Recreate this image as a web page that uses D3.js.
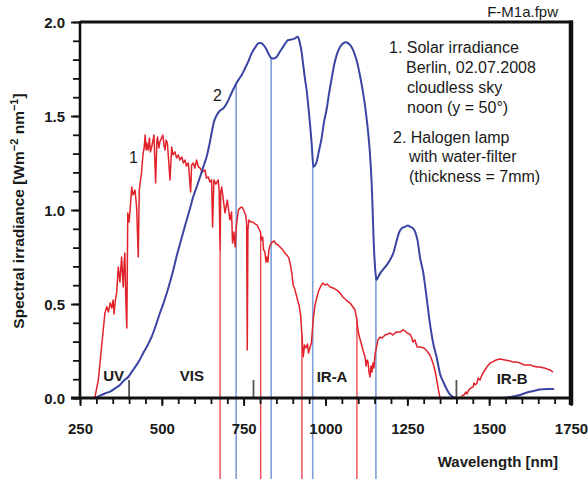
<!DOCTYPE html>
<html>
<head>
<meta charset="utf-8">
<script src="https://cdn.jsdelivr.net/npm/d3@7"></script>
<style>
  html, body { margin: 0; padding: 0; background: #fff; }
  svg text { font-family: "Liberation Sans", Arial, Helvetica, sans-serif; fill: #1a1a1a; }
</style>
</head>
<body>
<svg id="chart" width="588" height="479"></svg>
<script>
// Solar spectrum, Berlin 02.07.2008 (wavelength nm, irradiance W m^-2 nm^-1)
const solarNm = [290,296,306,316,326,332,337,342,347,351,354,358,362,367,372,377,380,382,385,387,390,393,396,400,403,408,412,418,423,428,431,435,438,441,443,446,449,452,454,458,462,465,469,473,476,481,485,487,491,494,499,503,507,510,513,517,525,530,534,540,545,550,555,561,566,571,575,581,588,591,596,601,606,612,617,624,632,636,642,647,652,655,659,665,672,675,678,680,683,688,693,700,704,708,713,716,720,724,728,734,739,745,751,756,759,761,763,766,772,778,785,791,797,801,804,808,811,815,818,821,824,827,830,837,843,849,855,861,870,876,882,888,893,898,901,907,913,919,924,927,930,932,936,940,945,948,953,957,960,963,968,974,980,986,992,998,1005,1014,1023,1035,1044,1053,1063,1075,1084,1090,1095,1098,1102,1107,1112,1116,1121,1124,1127,1130,1133,1136,1139,1142,1145,1148,1151,1154,1160,1167,1173,1182,1191,1197,1206,1212,1218,1228,1237,1243,1249,1258,1264,1267,1273,1280,1289,1301,1310,1319,1325,1331,1336,1341,1345,1350,1411,1417,1423,1429,1432,1438,1444,1451,1454,1457,1463,1466,1472,1478,1481,1487,1493,1503,1509,1521,1533,1548,1564,1573,1585,1594,1606,1616,1625,1634,1646,1655,1668,1677,1686,1695];
const solarVal = [0,0.007,0.096,0.273,0.451,0.486,0.457,0.505,0.479,0.521,0.447,0.521,0.559,0.697,0.617,0.750,0.654,0.590,0.723,0.771,0.521,0.372,0.984,0.936,1.000,1.122,1.080,1.106,1.016,0.750,1.106,1.160,1.197,1.266,1.303,1.330,1.399,1.319,1.356,1.319,1.383,1.309,1.335,1.372,1.399,1.144,1.372,1.388,1.330,1.362,1.383,1.399,1.340,1.319,1.372,1.356,1.160,1.335,1.293,1.309,1.277,1.293,1.266,1.282,1.250,1.266,1.234,1.250,1.096,1.239,1.250,1.223,1.266,1.229,1.223,1.202,1.213,1.170,1.176,1.149,1.160,0.910,1.160,1.138,1.160,1.106,0.787,1.096,1.122,1.053,0.984,1.053,1.000,0.947,0.989,0.824,0.883,0.803,0.920,1.000,1.011,1.016,0.995,0.973,0.936,0.255,0.894,0.947,0.936,0.936,0.926,0.920,0.899,0.883,0.840,0.856,0.787,0.777,0.723,0.750,0.723,0.787,0.809,0.830,0.835,0.819,0.814,0.803,0.787,0.771,0.761,0.745,0.707,0.654,0.601,0.574,0.532,0.495,0.441,0.362,0.282,0.218,0.282,0.266,0.287,0.239,0.271,0.293,0.362,0.426,0.495,0.537,0.574,0.596,0.612,0.601,0.606,0.590,0.585,0.574,0.559,0.537,0.521,0.505,0.484,0.468,0.426,0.378,0.335,0.303,0.271,0.245,0.218,0.170,0.202,0.191,0.138,0.112,0.170,0.138,0.186,0.160,0.229,0.255,0.309,0.324,0.319,0.335,0.340,0.346,0.335,0.346,0.351,0.351,0.362,0.356,0.346,0.340,0.319,0.298,0.309,0.271,0.271,0.266,0.250,0.229,0.202,0.170,0.133,0.085,0.043,0,0,0.011,0.016,0.032,0.021,0.043,0.053,0.059,0.080,0.069,0.080,0.106,0.096,0.122,0.133,0.149,0.165,0.186,0.191,0.202,0.207,0.202,0.197,0.191,0.191,0.186,0.176,0.176,0.176,0.170,0.165,0.165,0.160,0.154,0.149,0.138];

// Halogen lamp behind a 7 mm water filter
const halogenNm = [301,311,326,342,357,372,384,398,410,423,433,443,456,469,482,494,505,515,525,535,545,556,566,576,586,596,607,617,627,637,645,652,659,668,678,688,698,708,718,729,736,744,754,764,772,780,788,795,803,810,818,825,836,843,851,861,871,879,886,896,907,915,918,922,927,932,937,943,948,953,958,963,968,973,980,988,995,1004,1011,1019,1026,1034,1041,1049,1055,1062,1069,1075,1083,1090,1098,1105,1112,1119,1125,1131,1135,1138,1141,1144,1147,1150,1153,1156,1161,1167,1177,1187,1197,1207,1218,1223,1233,1243,1252,1258,1266,1273,1281,1289,1299,1309,1319,1329,1340,1350,1360,1370,1380,1390,1401,1472,1533,1554,1573,1594,1615,1635,1655,1676,1696];
const halogenVal = [0.005,0.013,0.024,0.034,0.051,0.069,0.093,0.113,0.144,0.176,0.205,0.238,0.279,0.326,0.388,0.451,0.503,0.557,0.617,0.681,0.753,0.823,0.886,0.947,1.008,1.071,1.125,1.177,1.231,1.284,1.346,1.408,1.468,1.505,1.529,1.541,1.566,1.603,1.641,1.678,1.697,1.718,1.753,1.789,1.824,1.851,1.872,1.887,1.888,1.878,1.859,1.834,1.807,1.806,1.815,1.843,1.869,1.891,1.904,1.907,1.913,1.922,1.912,1.887,1.840,1.771,1.702,1.629,1.543,1.452,1.346,1.230,1.237,1.257,1.314,1.381,1.463,1.541,1.622,1.701,1.769,1.824,1.856,1.878,1.888,1.892,1.888,1.878,1.856,1.824,1.777,1.718,1.654,1.576,1.495,1.399,1.319,1.239,1.144,1.000,0.840,0.734,0.660,0.628,0.644,0.663,0.686,0.707,0.734,0.770,0.840,0.872,0.903,0.910,0.918,0.911,0.904,0.888,0.840,0.745,0.663,0.532,0.397,0.291,0.213,0.128,0.085,0.048,0.019,0.005,0,0,0,0.002,0.008,0.016,0.029,0.037,0.045,0.048,0.048];

// Marked absorption wavelengths (nm)
const solarMarks = [678, 802, 928, 1096];
const halogenMarks = [727, 834, 961, 1154];

// Spectral band boundaries and band names
const bandEdges = [400, 780, 1400];
const bandNames = ["UV", "VIS", "IR-A", "IR-B"];
const bandLabelNm = [353, 592, 1020, 1570];
const bandLabelVal = [0.092, 0.092, 0.085, 0.075];

const xTickLabels = [250, 500, 750, 1000, 1250, 1500, 1750];
const yTickLabels = [0, 0.5, 1.0, 1.5, 2.0];

const noteLines = [
  ["1. Solar irradiance", 0],
  ["Berlin, 02.07.2008", 1],
  ["cloudless sky", 1],
  ["noon (y = 50°)", 1],
  ["2. Halogen lamp", 0],
  ["with water-filter", 1],
  ["(thickness = 7mm)", 1]
];

const svg = d3.select("#chart");
const W = 588, H = 479;
const x = d3.scaleLinear().domain([250, 1750]).range([80, 571]);
const y = d3.scaleLinear().domain([0, 2]).range([398, 22]);

const RED = "#e2222b", BLUE = "#3a45a3";
const solar = solarNm.map((d, i) => [d, solarVal[i]]);
const halogen = halogenNm.map((d, i) => [d, halogenVal[i]]);
const interp = (xs, vs, w) => {
  const i = d3.bisectLeft(xs, w);
  if (i <= 0) return vs[0];
  if (i >= xs.length) return vs[vs.length - 1];
  const t = (w - xs[i - 1]) / (xs[i] - xs[i - 1]);
  return vs[i - 1] + t * (vs[i] - vs[i - 1]);
};

// vertical marker lines, running from the curve down past the axis
svg.append("g").selectAll("line").data(halogenMarks).join("line")
  .attr("x1", d => x(d)).attr("x2", d => x(d))
  .attr("y1", d => y(interp(halogenNm, halogenVal, d))).attr("y2", H)
  .attr("stroke", "#7f9ed8").attr("stroke-width", 1.6);
svg.append("g").selectAll("line").data(solarMarks).join("line")
  .attr("x1", d => x(d)).attr("x2", d => x(d))
  .attr("y1", d => y(interp(solarNm, solarVal, d))).attr("y2", H)
  .attr("stroke", "#e8484e").attr("stroke-width", 1.4);

// band boundary ticks
svg.append("g").selectAll("line").data(bandEdges).join("line")
  .attr("x1", d => x(d)).attr("x2", d => x(d))
  .attr("y1", y(0)).attr("y2", y(0.096))
  .attr("stroke", "#555").attr("stroke-width", 1.8);

// curves
const line = d3.line().x(d => x(d[0])).y(d => y(d[1]));
svg.append("path").datum(solar).attr("d", line)
  .attr("fill", "none").attr("stroke", RED).attr("stroke-width", 1.5)
  .attr("stroke-linejoin", "round");
svg.append("path").datum(halogen).attr("d", line.curve(d3.curveMonotoneX))
  .attr("fill", "none").attr("stroke", BLUE).attr("stroke-width", 2)
  .attr("stroke-linejoin", "round").attr("stroke-linecap", "round");

// axes
const gx = svg.append("g").attr("transform", `translate(0,${y(0)})`);
gx.call(d3.axisBottom(x).tickValues(d3.range(250, 1751, 50)).tickSize(6).tickSizeOuter(0).tickFormat(""));
gx.call(g => g.select(".domain").remove());
const gxl = svg.append("g").attr("transform", `translate(0,${y(0)})`);
gxl.call(d3.axisBottom(x).tickValues(xTickLabels).tickSize(8).tickSizeOuter(0).tickFormat(d3.format("d")));
gxl.call(g => g.select(".domain").remove());
gxl.selectAll("text").attr("y", 36).attr("dy", 0)
  .style("font-size", "15px").style("font-weight", "bold");

const gy = svg.append("g").attr("transform", `translate(${x(250)},0)`);
gy.call(d3.axisLeft(y).tickValues(d3.range(0, 21).map(i => i / 10)).tickSize(7).tickSizeOuter(0).tickFormat(""));
gy.call(g => g.select(".domain").remove());
const gyl = svg.append("g").attr("transform", `translate(${x(250)},0)`);
gyl.call(d3.axisLeft(y).tickValues(yTickLabels).tickSize(9).tickSizeOuter(0).tickFormat(d3.format(".1f")));
gyl.call(g => g.select(".domain").remove());
gyl.selectAll("text").attr("x", -15).attr("dy", "0.36em")
  .style("font-size", "15px").style("font-weight", "bold");
svg.selectAll(".tick line").attr("stroke", "#111").attr("stroke-width", 1.8);

// frame: axis lines plus heavier top and right edges
const frame = svg.append("g").attr("stroke", "#111").attr("fill", "none");
frame.append("line").attr("x1", x(250) - 9).attr("x2", x(1750)).attr("y1", y(0)).attr("y2", y(0)).attr("stroke-width", 3);
frame.append("line").attr("x1", x(250)).attr("x2", x(250)).attr("y1", y(2) - 1).attr("y2", y(0)).attr("stroke-width", 2.6);
frame.append("line").attr("x1", x(250)).attr("x2", x(1750) + 2).attr("y1", y(2)).attr("y2", y(2)).attr("stroke-width", 3.2);
frame.append("line").attr("x1", x(1750)).attr("x2", x(1750)).attr("y1", y(2) - 1.5).attr("y2", y(0) + 7).attr("stroke-width", 4.5);

// band names
svg.append("g").selectAll("text").data(bandNames).join("text")
  .attr("x", (d, i) => x(bandLabelNm[i])).attr("y", (d, i) => y(bandLabelVal[i]))
  .attr("text-anchor", "middle").style("font-size", "15px").style("font-weight", "bold")
  .text(d => d);

// curve numbers
svg.append("text").attr("x", x(413)).attr("y", y(1.249)).attr("text-anchor", "middle")
  .style("font-size", "16px").text("1");
svg.append("text").attr("x", x(670)).attr("y", y(1.581)).attr("text-anchor", "middle")
  .style("font-size", "16px").text("2");

// notes
const notes = svg.append("g").style("font-size", "16px");
const noteY = [53, 73, 93, 113, 143, 162, 182];
const noteX = [389, 406, 407, 407, 393, 409, 409];
notes.selectAll("text").data(noteLines).join("text")
  .attr("x", (d, i) => noteX[i]).attr("y", (d, i) => noteY[i]).text(d => d[0]);

svg.append("text").attr("x", 558).attr("y", 16.5).attr("text-anchor", "end")
  .style("font-size", "15px").text("F-M1a.fpw");

// axis titles
svg.append("text").attr("x", 558).attr("y", 467).attr("text-anchor", "end")
  .style("font-size", "15px").style("font-weight", "bold").text("Wavelength [nm]");

const yt = svg.append("text").attr("transform", "translate(24,211) rotate(-90)")
  .attr("text-anchor", "middle").style("font-size", "15.5px").style("font-weight", "bold");
yt.append("tspan").text("Spectral irradiance [Wm");
yt.append("tspan").attr("dy", -6).style("font-size", "11px").text("\u22122");
yt.append("tspan").attr("dy", 6).text(" nm");
yt.append("tspan").attr("dy", -6).style("font-size", "11px").text("\u22121");
yt.append("tspan").attr("dy", 6).text("]");
</script>
</body>
</html>
